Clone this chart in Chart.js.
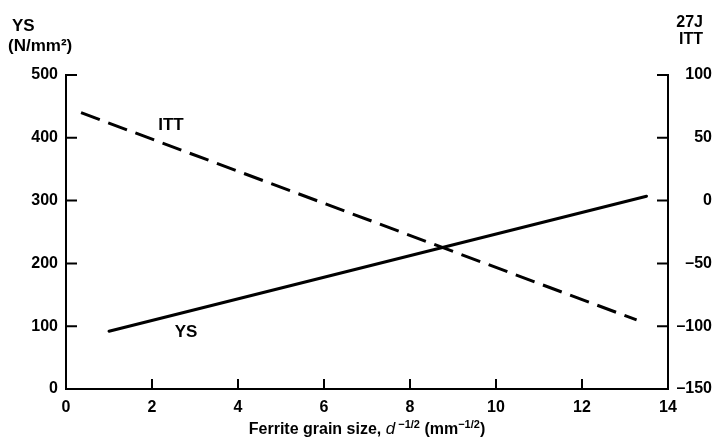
<!DOCTYPE html>
<html>
<head>
<meta charset="utf-8">
<script src="https://cdn.jsdelivr.net/npm/chart.js@4/dist/chart.umd.min.js"></script>
<style>
  html, body { margin: 0; padding: 0; background: #fff; }
  #wrap { width: 716px; height: 443px; position: relative; }
</style>
</head>
<body>
<div id="wrap"><canvas id="c" width="716" height="443"></canvas></div>
<script>
// ---- data ----
const xTicks = [0, 2, 4, 6, 8, 10, 12, 14];
const ysTicks = [0, 100, 200, 300, 400, 500];
const ittTicks = [-150, -100, -50, 0, 50, 100];

const ysX = [1.0, 13.5];
const ysValues = [92, 307];
const ittX = [0.35, 13.27];
const ittValues = [70, -95];

const leftTitle = ['YS', '(N/mm²)'];
const rightTitle = ['27J', 'ITT'];
const seriesLabels = ['YS', 'ITT'];

const FONT = '"Liberation Sans", Arial, sans-serif';

const extrasPlugin = {
  id: 'extras',
  afterDraw(chart) {
    const ctx = chart.ctx;
    const xs = chart.scales.x, yl = chart.scales.y, yr = chart.scales.y2;
    const ca = chart.chartArea;
    ctx.save();
    ctx.strokeStyle = '#000';
    ctx.lineWidth = 2;
    // inward tick marks
    ctx.beginPath();
    xTicks.forEach(v => {
      const px = xs.getPixelForValue(v);
      ctx.moveTo(px, ca.bottom); ctx.lineTo(px, ca.bottom - 10);
    });
    ysTicks.forEach(v => {
      const py = yl.getPixelForValue(v);
      ctx.moveTo(ca.left, py); ctx.lineTo(ca.left + 11, py);
    });
    ittTicks.forEach(v => {
      const py = yr.getPixelForValue(v);
      ctx.moveTo(ca.right, py); ctx.lineTo(ca.right - 11, py);
    });
    ctx.stroke();

    ctx.fillStyle = '#000';
    // axis titles
    ctx.font = 'bold 17px ' + FONT;
    ctx.textAlign = 'left';
    ctx.textBaseline = 'alphabetic';
    ctx.fillText(leftTitle[0], 12, 31);
    ctx.fillText(leftTitle[1], 8, 51);
    ctx.font = 'bold 16px ' + FONT;
    ctx.textAlign = 'right';
    ctx.fillText(rightTitle[0], 703, 27);
    ctx.fillText(rightTitle[1], 703, 44);

    // series labels placed through the scales
    ctx.font = 'bold 17px ' + FONT;
    ctx.textAlign = 'center';
    ctx.textBaseline = 'middle';
    ctx.fillText(seriesLabels[1], xs.getPixelForValue(2.44), yr.getPixelForValue(60));
    ctx.fillText(seriesLabels[0], xs.getPixelForValue(2.79), yl.getPixelForValue(91));

    // x axis title with superscripts
    const parts = [
      ['Ferrite grain size, ', 'bold 16px ' + FONT, 0],
      ['d', 'italic 17px ' + FONT, 0],
      [' \u22121/2', 'bold 11px ' + FONT, -6],
      [' (mm', 'bold 16px ' + FONT, 0],
      ['\u22121/2', 'bold 11px ' + FONT, -6],
      [')', 'bold 16px ' + FONT, 0]
    ];
    let total = 0;
    parts.forEach(p => { ctx.font = p[1]; total += ctx.measureText(p[0]).width; });
    let x = (ca.left + ca.right) / 2 - total / 2;
    const base = 434;
    ctx.textAlign = 'left';
    ctx.textBaseline = 'alphabetic';
    parts.forEach(p => {
      ctx.font = p[1];
      ctx.fillText(p[0], x, base + p[2]);
      x += ctx.measureText(p[0]).width;
    });
    ctx.restore();
  }
};

const fmt = v => (v < 0 ? '\u2013' + Math.abs(v) : String(v));

new Chart(document.getElementById('c'), {
  type: 'line',
  data: {
    datasets: [
      {
        label: 'YS',
        data: ysX.map((x, i) => ({ x, y: ysValues[i] })),
        yAxisID: 'y',
        borderColor: '#000',
        borderWidth: 3,
        pointRadius: 0,
        fill: false,
        tension: 0,
        borderCapStyle: 'round'
      },
      {
        label: 'ITT',
        data: ittX.map((x, i) => ({ x, y: ittValues[i] })),
        yAxisID: 'y2',
        borderColor: '#000',
        borderWidth: 3,
        borderDash: [20, 9],
        pointRadius: 0,
        fill: false,
        tension: 0
      }
    ]
  },
  options: {
    responsive: false,
    animation: false,
    devicePixelRatio: 1,
    layout: { padding: { top: 75, left: 0, right: 4, bottom: 0 } },
    plugins: { legend: { display: false }, tooltip: { enabled: false } },
    scales: {
      x: {
        type: 'linear',
        min: 0, max: 14,
        afterBuildTicks: s => { s.ticks = xTicks.map(v => ({ value: v })); },
        afterFit: s => { s.height = 54; },
        grid: { display: false, drawTicks: false },
        border: { display: true, color: '#000', width: 2 },
        ticks: { color: '#000', padding: 9, font: { family: FONT, size: 16, weight: 'bold' }, maxRotation: 0 }
      },
      y: {
        type: 'linear',
        position: 'left',
        min: 0, max: 500,
        afterBuildTicks: s => { s.ticks = ysTicks.map(v => ({ value: v })); },
        afterFit: s => { s.width = 66; },
        grid: { display: false, drawTicks: false },
        border: { display: true, color: '#000', width: 2 },
        ticks: { color: '#000', padding: 8, font: { family: FONT, size: 16, weight: 'bold' } }
      },
      y2: {
        type: 'linear',
        position: 'right',
        min: -150, max: 100,
        afterBuildTicks: s => { s.ticks = ittTicks.map(v => ({ value: v })); },
        afterFit: s => { s.width = 44; },
        grid: { display: false, drawTicks: false },
        border: { display: true, color: '#000', width: 2 },
        ticks: { color: '#000', padding: 4, crossAlign: 'far', callback: v => fmt(v), font: { family: FONT, size: 16, weight: 'bold' } }
      }
    }
  },
  plugins: [extrasPlugin]
});
</script>
</body>
</html>
